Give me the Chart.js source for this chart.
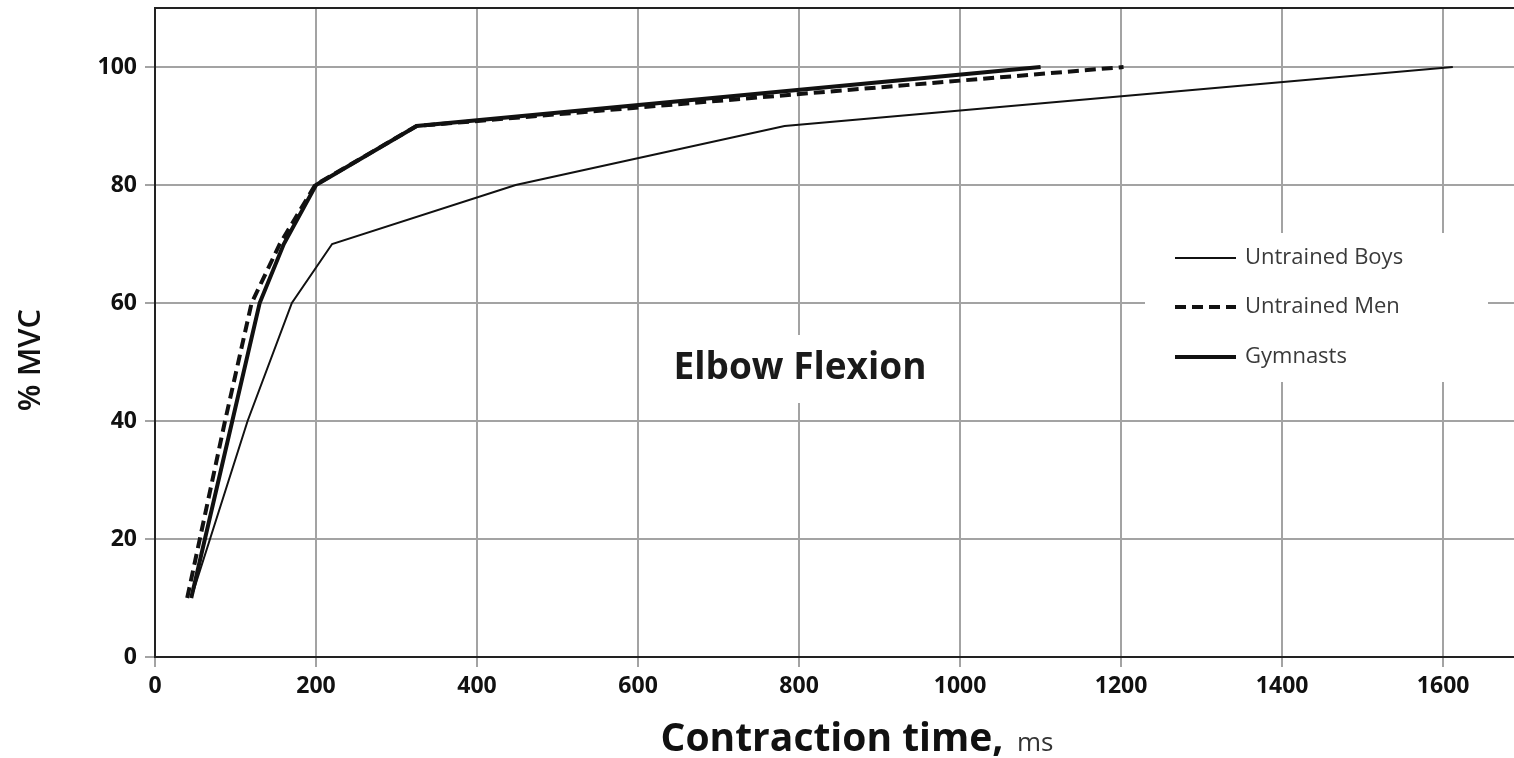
<!DOCTYPE html>
<html>
<head>
<meta charset="utf-8">
<script src="https://cdn.jsdelivr.net/npm/chart.js@4.4.1/dist/chart.umd.min.js"></script>
<style>
  html, body { margin: 0; padding: 0; background: #fff; }
  #wrap { width: 1514px; height: 758px; }
</style>
</head>
<body>
<div id="wrap"><canvas id="chart" width="1514" height="758"></canvas></div>
<script>
// Werte (ms / % MVC)
const boysX = [45, 115, 170, 220, 448, 782, 1612];
const boysY = [10, 40, 60, 70, 80, 90, 100];
const menX = [40, 87, 120, 155, 199, 325, 1203];
const menY = [10, 40, 60, 70, 80, 90, 100];
const gymX = [45, 96, 130, 160, 200, 325, 1100];
const gymY = [10, 40, 60, 70, 80, 90, 100];
const seriesNames = ["Untrained Boys", "Untrained Men", "Gymnasts"];
const xTicks = [0, 200, 400, 600, 800, 1000, 1200, 1400, 1600];
const yTicks = [0, 20, 40, 60, 80, 100];

const schrift = "'Open Sans'";
const tickFont = { family: schrift, weight: "bold", size: 23 };
const gridColor = "#a3a3a3";

function punkte(xs, ys) {
  return xs.map((x, i) => ({ x: x, y: ys[i] }));
}

// Titel, Legende und Achsentitel selbst zeichnen
const extras = {
  id: "extras",
  beforeDatasetsDraw(chart) {
    const ctx = chart.ctx;
    const area = chart.chartArea;
    ctx.save();
    // weisse Kästen über den Gitterlinien
    ctx.fillStyle = "#fff";
    ctx.fillRect(655, 335, 290, 68);
    ctx.fillRect(1145, 233, 343, 149);

    ctx.fillStyle = "#1a1a1a";
    ctx.font = "bold 37px " + schrift;
    ctx.textAlign = "center";
    ctx.textBaseline = "middle";
    ctx.fillText("Elbow Flexion", 800, 368);

    // Legende
    const rows = [258, 307, 357];
    chart.data.datasets.forEach((ds, i) => {
      ctx.beginPath();
      ctx.strokeStyle = ds.borderColor;
      ctx.lineWidth = ds.borderWidth;
      ctx.setLineDash(ds.borderDash || []);
      ctx.moveTo(1175, rows[i]);
      ctx.lineTo(1236, rows[i]);
      ctx.stroke();
      ctx.setLineDash([]);
      ctx.fillStyle = "#3a3a3a";
      ctx.font = "22px " + schrift;
      ctx.textAlign = "left";
      ctx.fillText(ds.label, 1245, rows[i]);
    });

    // Rahmen oben
    ctx.strokeStyle = "#222";
    ctx.lineWidth = 2;
    ctx.beginPath();
    ctx.moveTo(area.left, area.top);
    ctx.lineTo(area.right, area.top);
    ctx.stroke();
    ctx.restore();
  },
  afterDraw(chart) {
    const ctx = chart.ctx;
    ctx.save();
    ctx.fillStyle = "#111";
    ctx.textBaseline = "middle";
    // x-Achsentitel mit gemischtem Stil
    const f1 = "bold 39px " + schrift;
    const f2 = "26px " + schrift;
    ctx.font = f1;
    const t1 = "Contraction time,";
    const w1 = ctx.measureText(t1).width;
    ctx.font = f2;
    const t2 = "  ms";
    const w2 = ctx.measureText(t2).width;
    const x0 = 857 - (w1 + w2) / 2;
    ctx.textAlign = "left";
    ctx.font = f1;
    ctx.fillText(t1, x0, 740);
    ctx.font = f2;
    ctx.fillStyle = "#333";
    ctx.fillText(t2, x0 + w1, 744);

    // y-Achsentitel
    ctx.translate(31, 360);
    ctx.rotate(-Math.PI / 2);
    ctx.fillStyle = "#111";
    ctx.font = "600 31px " + schrift;
    ctx.textAlign = "center";
    ctx.fillText("% MVC", 0, 0);
    ctx.restore();
  }
};

new Chart(document.getElementById("chart"), {
  type: "scatter",
  data: {
    datasets: [
      {
        label: seriesNames[0],
        data: punkte(boysX, boysY),
        showLine: true,
        borderColor: "#111",
        borderWidth: 2,
        pointRadius: 0,
        tension: 0
      },
      {
        label: seriesNames[1],
        data: punkte(menX, menY),
        showLine: true,
        borderColor: "#111",
        borderWidth: 4,
        borderDash: [11, 6],
        pointRadius: 0,
        tension: 0
      },
      {
        label: seriesNames[2],
        data: punkte(gymX, gymY),
        showLine: true,
        borderColor: "#111",
        borderWidth: 4,
        pointRadius: 0,
        tension: 0
      }
    ]
  },
  options: {
    responsive: false,
    animation: false,
    layout: { padding: { top: 8, right: 0, left: 0, bottom: 0 } },
    plugins: {
      legend: { display: false },
      tooltip: { enabled: false }
    },
    scales: {
      x: {
        type: "linear",
        min: 0,
        max: 1688,
        afterFit: s => { s.height = 101; s.paddingLeft = 0; s.paddingRight = 0; },
        afterBuildTicks: s => { s.ticks = xTicks.map(v => ({ value: v })); },
        ticks: {
          color: "#111",
          font: tickFont,
          padding: 6,
          maxRotation: 0,
          callback: v => String(v)
        },
        grid: { color: gridColor, lineWidth: 2, tickLength: 10 },
        border: { color: "#222", width: 2 }
      },
      y: {
        type: "linear",
        min: 0,
        max: 110,
        afterFit: s => { s.width = 155; s.paddingTop = 0; s.paddingBottom = 0; },
        afterBuildTicks: s => { s.ticks = yTicks.map(v => ({ value: v })); },
        ticks: {
          color: "#111",
          font: tickFont,
          padding: 8,
          callback: v => String(v)
        },
        grid: { color: gridColor, lineWidth: 2, tickLength: 10 },
        border: { color: "#222", width: 2 }
      }
    }
  },
  plugins: [extras]
});
</script>
</body>
</html>
